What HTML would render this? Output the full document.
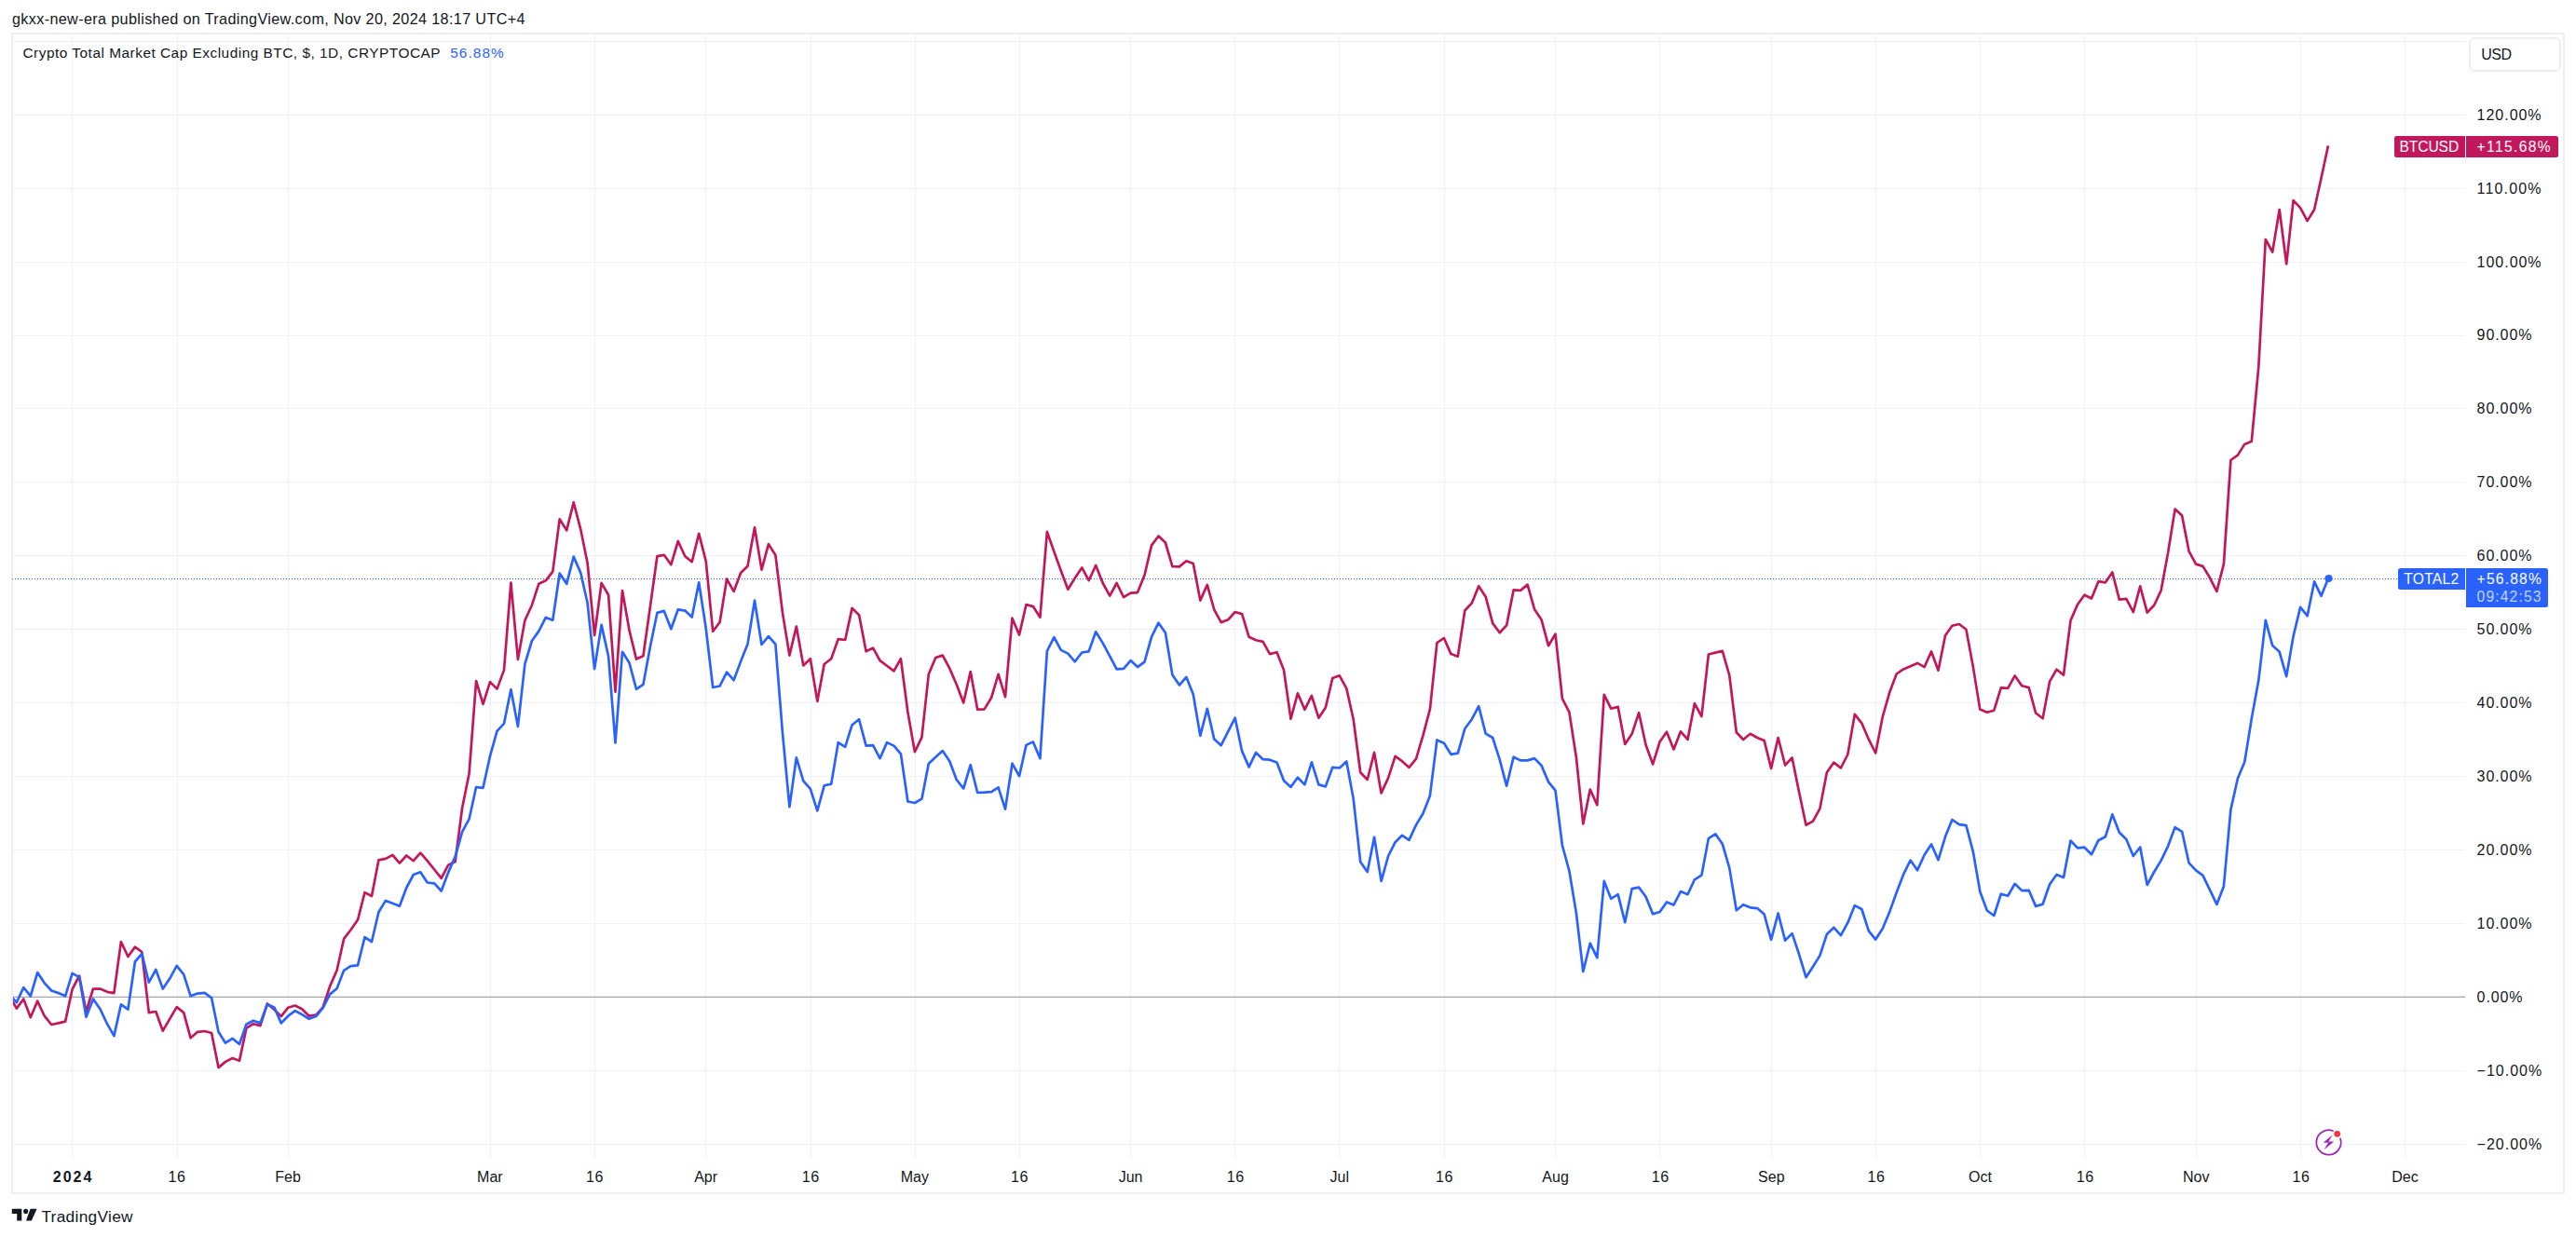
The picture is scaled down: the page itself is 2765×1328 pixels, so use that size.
<!DOCTYPE html>
<html><head><meta charset="utf-8"><title>chart</title>
<style>
html,body{margin:0;padding:0;background:#fff;}
body{width:2765px;height:1328px;position:relative;overflow:hidden;font-family:"Liberation Sans",sans-serif;color:#131722;}
.t{position:absolute;white-space:nowrap;line-height:1;}
.b{position:absolute;}
#frame{left:12px;top:35px;width:2737px;height:1243px;border:2px solid #eceef3;box-sizing:content-box;}
#usd{left:2650px;top:40px;width:95px;height:33px;border:2px solid #eceef4;border-radius:6px;box-sizing:content-box;}
svg{position:absolute;left:0;top:0;}
</style></head><body>
<div class="b" id="frame"></div>

<svg width="2765" height="1328" viewBox="0 0 2765 1328">
<g stroke="#f0f1f2" stroke-width="1">
<line x1="77.5" y1="37" x2="77.5" y2="1243.5"/>
<line x1="190.5" y1="37" x2="190.5" y2="1243.5"/>
<line x1="309.5" y1="37" x2="309.5" y2="1243.5"/>
<line x1="526.5" y1="37" x2="526.5" y2="1243.5"/>
<line x1="638.5" y1="37" x2="638.5" y2="1243.5"/>
<line x1="757.5" y1="37" x2="757.5" y2="1243.5"/>
<line x1="870.5" y1="37" x2="870.5" y2="1243.5"/>
<line x1="982.5" y1="37" x2="982.5" y2="1243.5"/>
<line x1="1094.5" y1="37" x2="1094.5" y2="1243.5"/>
<line x1="1213.5" y1="37" x2="1213.5" y2="1243.5"/>
<line x1="1325.5" y1="37" x2="1325.5" y2="1243.5"/>
<line x1="1437.5" y1="37" x2="1437.5" y2="1243.5"/>
<line x1="1550.5" y1="37" x2="1550.5" y2="1243.5"/>
<line x1="1669.5" y1="37" x2="1669.5" y2="1243.5"/>
<line x1="1781.5" y1="37" x2="1781.5" y2="1243.5"/>
<line x1="1901.5" y1="37" x2="1901.5" y2="1243.5"/>
<line x1="2013.5" y1="37" x2="2013.5" y2="1243.5"/>
<line x1="2125.5" y1="37" x2="2125.5" y2="1243.5"/>
<line x1="2237.5" y1="37" x2="2237.5" y2="1243.5"/>
<line x1="2357.5" y1="37" x2="2357.5" y2="1243.5"/>
<line x1="2469.5" y1="37" x2="2469.5" y2="1243.5"/>
<line x1="2581.5" y1="37" x2="2581.5" y2="1243.5"/>
<line x1="14" y1="1228.5" x2="2646" y2="1228.5"/>
<line x1="14" y1="1149.5" x2="2646" y2="1149.5"/>
<line x1="14" y1="991.5" x2="2646" y2="991.5"/>
<line x1="14" y1="912.5" x2="2646" y2="912.5"/>
<line x1="14" y1="833.5" x2="2646" y2="833.5"/>
<line x1="14" y1="754.5" x2="2646" y2="754.5"/>
<line x1="14" y1="675.5" x2="2646" y2="675.5"/>
<line x1="14" y1="596.5" x2="2646" y2="596.5"/>
<line x1="14" y1="517.5" x2="2646" y2="517.5"/>
<line x1="14" y1="438.5" x2="2646" y2="438.5"/>
<line x1="14" y1="360.5" x2="2646" y2="360.5"/>
<line x1="14" y1="281.5" x2="2646" y2="281.5"/>
<line x1="14" y1="202.5" x2="2646" y2="202.5"/>
<line x1="14" y1="123.5" x2="2646" y2="123.5"/>
<line x1="14" y1="44.5" x2="2646" y2="44.5"/>
</g>
<line x1="14" y1="1070.4" x2="2646" y2="1070.4" stroke="#a3a6b2" stroke-width="1.3"/>
<line x1="13" y1="621.5" x2="2574" y2="621.5" stroke="#2962ff" stroke-width="1" stroke-dasharray="1,2" shape-rendering="crispEdges"/>
<clipPath id="cp"><rect x="14" y="37" width="2632" height="1206"/></clipPath>
<g clip-path="url(#cp)" fill="none" stroke-width="2.7" stroke-linejoin="round" stroke-linecap="butt">
<polyline stroke="#c2185b" points="10.3,1069.4 17.8,1082.6 25.3,1072.5 32.8,1092.2 40.2,1074.7 47.7,1090.7 55.2,1100.0 62.7,1098.4 70.1,1096.6 77.6,1062.0 85.1,1047.7 92.5,1086.0 100.0,1061.5 107.5,1061.6 115.0,1064.8 122.4,1066.1 129.9,1011.0 137.4,1027.0 144.9,1016.6 152.3,1022.0 159.8,1087.1 167.3,1086.0 174.8,1106.7 182.2,1093.8 189.7,1081.1 197.2,1087.1 204.6,1114.3 212.1,1107.8 219.6,1107.0 227.1,1109.0 234.5,1146.1 242.0,1139.9 249.5,1136.0 257.0,1138.8 264.4,1103.9 271.9,1099.2 279.4,1101.1 286.9,1077.5 294.3,1083.7 301.8,1091.1 309.3,1081.7 316.8,1079.5 324.2,1083.2 331.7,1090.7 339.2,1089.6 346.6,1081.4 354.1,1058.9 361.6,1041.8 369.1,1007.9 376.5,998.3 384.0,987.6 391.5,958.1 399.0,962.0 406.4,923.4 413.9,921.9 421.4,918.0 428.9,926.6 436.3,918.5 443.8,924.2 451.3,915.7 458.7,924.2 466.2,933.5 473.7,942.9 481.2,928.6 488.6,925.0 496.1,867.5 503.6,830.3 511.1,731.0 518.5,755.9 526.0,732.1 533.5,739.6 541.0,719.4 548.4,625.6 555.9,707.9 563.4,666.0 570.9,649.7 578.3,626.8 585.8,623.3 593.3,613.6 600.7,557.3 608.2,569.4 615.7,539.4 623.2,568.1 630.6,604.6 638.1,682.0 645.6,625.9 653.1,638.8 660.5,742.7 668.0,634.1 675.5,676.8 683.0,707.6 690.4,704.2 697.9,651.2 705.4,597.2 712.8,595.8 720.3,606.2 727.8,581.0 735.3,597.2 742.7,603.1 750.2,572.8 757.7,602.3 765.2,677.8 772.6,668.0 780.1,621.7 787.6,634.9 795.1,615.0 802.5,607.7 810.0,566.3 817.5,611.6 824.9,584.1 832.4,596.0 839.9,657.4 847.4,703.6 854.8,672.6 862.3,714.5 869.8,707.2 877.3,752.9 884.7,713.0 892.2,707.2 899.7,686.1 907.2,687.0 914.6,652.9 922.1,660.2 929.6,699.3 937.1,695.6 944.5,709.1 952.0,714.8 959.5,720.4 966.9,707.2 974.4,764.5 981.9,807.2 989.4,791.7 996.8,723.8 1004.3,706.0 1011.8,703.6 1019.3,717.6 1026.7,734.7 1034.2,754.4 1041.7,721.1 1049.2,761.7 1056.6,761.4 1064.1,749.0 1071.6,723.9 1079.0,748.2 1086.5,663.7 1094.0,681.6 1101.5,649.0 1108.9,651.1 1116.4,662.8 1123.9,570.9 1131.4,592.3 1138.8,612.8 1146.3,632.7 1153.8,620.6 1161.3,609.4 1168.7,623.2 1176.2,607.0 1183.7,626.0 1191.2,639.7 1198.6,626.0 1206.1,641.2 1213.6,636.6 1221.0,636.1 1228.5,617.5 1236.0,585.6 1243.5,575.5 1250.9,582.5 1258.4,608.1 1265.9,608.4 1273.4,602.2 1280.8,605.0 1288.3,644.6 1295.8,627.9 1303.3,654.7 1310.7,668.2 1318.2,665.3 1325.7,657.0 1333.1,659.1 1340.6,683.8 1348.1,687.3 1355.6,688.9 1363.0,702.1 1370.5,700.2 1378.0,719.2 1385.5,771.7 1392.9,744.3 1400.4,761.8 1407.9,746.9 1415.4,770.7 1422.8,759.8 1430.3,728.0 1437.8,725.3 1445.3,739.1 1452.7,772.2 1460.2,829.2 1467.7,837.0 1475.1,807.9 1482.6,851.4 1490.1,835.1 1497.6,811.8 1505.0,817.2 1512.5,823.9 1520.0,814.6 1527.5,789.3 1534.9,761.3 1542.4,690.1 1549.9,685.0 1557.4,702.1 1564.8,704.7 1572.3,655.5 1579.8,647.4 1587.2,629.2 1594.7,640.7 1602.2,669.1 1609.7,679.2 1617.1,671.4 1624.6,633.4 1632.1,633.9 1639.6,627.6 1647.0,653.9 1654.5,665.2 1662.0,693.2 1669.5,680.7 1676.9,749.8 1684.4,764.6 1691.9,813.0 1699.3,884.4 1706.8,847.5 1714.3,864.2 1721.8,745.9 1729.2,760.7 1736.7,758.9 1744.2,799.0 1751.7,787.8 1759.1,765.2 1766.6,799.8 1774.1,820.4 1781.6,796.2 1789.0,785.8 1796.5,804.4 1804.0,785.3 1811.5,793.9 1818.9,755.2 1826.4,769.2 1833.9,702.5 1841.3,700.6 1848.8,698.9 1856.3,725.0 1863.8,786.3 1871.2,794.0 1878.7,787.8 1886.2,792.0 1893.7,795.1 1901.1,824.9 1908.6,792.0 1916.1,821.5 1923.6,813.4 1931.0,849.9 1938.5,885.7 1946.0,881.6 1953.4,868.1 1960.9,829.3 1968.4,818.6 1975.9,824.5 1983.3,810.0 1990.8,766.9 1998.3,776.3 2005.8,793.7 2013.2,808.5 2020.7,769.7 2028.2,743.3 2035.7,723.5 2043.1,718.4 2050.6,715.3 2058.1,711.9 2065.6,716.1 2073.0,699.5 2080.5,719.7 2088.0,682.2 2095.4,671.8 2102.9,670.0 2110.4,675.7 2117.9,716.1 2125.3,761.6 2132.8,764.7 2140.3,762.7 2147.8,738.3 2155.2,738.9 2162.7,725.4 2170.2,736.3 2177.7,738.1 2185.1,765.5 2192.6,771.2 2200.1,731.6 2207.5,718.7 2215.0,724.6 2222.5,666.1 2230.0,649.0 2237.4,638.7 2244.9,642.5 2252.4,624.2 2259.9,625.3 2267.3,614.4 2274.8,643.6 2282.3,642.9 2289.8,657.1 2297.2,629.3 2304.7,657.6 2312.2,649.8 2319.6,633.9 2327.1,593.2 2334.6,546.6 2342.1,553.6 2349.5,591.6 2357.0,605.6 2364.5,607.9 2372.0,620.3 2379.4,634.8 2386.9,605.6 2394.4,494.0 2401.9,488.6 2409.3,476.9 2416.8,473.8 2424.3,393.9 2431.8,257.0 2439.2,270.5 2446.7,225.0 2454.2,283.4 2461.6,215.1 2469.1,223.2 2476.6,237.1 2484.1,225.0 2491.5,191.3 2499.0,156.4"/>
<polyline stroke="#2962ff" points="10.3,1068.0 17.8,1076.2 25.3,1060.1 32.8,1069.4 40.2,1044.1 47.7,1055.3 55.2,1063.5 62.7,1066.1 70.1,1069.3 77.6,1044.9 85.1,1049.2 92.5,1091.8 100.0,1072.5 107.5,1083.2 115.0,1099.2 122.4,1112.1 129.9,1078.3 137.4,1083.7 144.9,1032.5 152.3,1023.9 159.8,1054.7 167.3,1041.0 174.8,1061.6 182.2,1050.6 189.7,1036.8 197.2,1046.1 204.6,1069.3 212.1,1066.6 219.6,1065.8 227.1,1071.3 234.5,1107.8 242.0,1119.7 249.5,1114.8 257.0,1121.0 264.4,1099.7 271.9,1095.8 279.4,1098.4 286.9,1078.3 294.3,1081.4 301.8,1098.4 309.3,1090.7 316.8,1085.2 324.2,1089.1 331.7,1093.8 339.2,1091.1 346.6,1082.1 354.1,1067.4 361.6,1061.2 369.1,1041.8 376.5,1037.1 384.0,1036.3 391.5,1006.1 399.0,1011.0 406.4,979.3 413.9,966.9 421.4,969.7 428.9,972.7 436.3,953.0 443.8,939.0 451.3,936.3 458.7,947.5 466.2,948.3 473.7,956.5 481.2,936.6 488.6,919.6 496.1,893.2 503.6,879.2 511.1,845.0 518.5,845.8 526.0,811.6 533.5,784.9 541.0,776.8 548.4,740.3 555.9,779.9 563.4,712.9 570.9,688.0 578.3,677.6 585.8,662.9 593.3,665.7 600.7,615.5 608.2,626.8 615.7,597.6 623.2,614.7 630.6,647.3 638.1,718.1 645.6,670.9 653.1,704.8 660.5,797.5 668.0,699.8 675.5,711.6 683.0,739.9 690.4,734.9 697.9,694.2 705.4,657.9 712.8,655.9 720.3,675.3 727.8,654.3 735.3,655.6 742.7,662.5 750.2,625.3 757.7,674.5 765.2,738.0 772.6,736.5 780.1,721.7 787.6,730.2 795.1,710.1 802.5,691.6 810.0,644.7 817.5,692.0 824.9,683.1 832.4,691.7 839.9,786.0 847.4,866.2 854.8,813.4 862.3,838.3 869.8,846.8 877.3,870.4 884.7,843.3 892.2,841.7 899.7,797.1 907.2,801.8 914.6,778.2 922.1,772.3 929.6,800.6 937.1,800.2 944.5,814.2 952.0,797.1 959.5,800.6 966.9,809.3 974.4,860.5 981.9,862.0 989.4,857.7 996.8,819.7 1004.3,812.7 1011.8,806.1 1019.3,817.3 1026.7,837.0 1034.2,846.5 1041.7,821.2 1049.2,851.0 1056.6,850.7 1064.1,850.2 1071.6,845.3 1079.0,868.6 1086.5,819.7 1094.0,833.2 1101.5,799.9 1108.9,796.4 1116.4,814.2 1123.9,699.0 1131.4,684.2 1138.8,697.9 1146.3,701.6 1153.8,710.3 1161.3,700.5 1168.7,699.3 1176.2,678.3 1183.7,690.4 1191.2,704.4 1198.6,718.4 1206.1,717.9 1213.6,709.1 1221.0,716.1 1228.5,710.6 1236.0,683.9 1243.5,668.7 1250.9,679.3 1258.4,724.6 1265.9,735.5 1273.4,726.9 1280.8,745.6 1288.3,789.8 1295.8,760.9 1303.3,793.6 1310.7,800.2 1318.2,785.4 1325.7,770.7 1333.1,806.4 1340.6,823.4 1348.1,807.9 1355.6,815.2 1363.0,815.7 1370.5,818.5 1378.0,837.9 1385.5,844.9 1392.9,834.8 1400.4,842.4 1407.9,818.3 1415.4,842.4 1422.8,844.4 1430.3,823.8 1437.8,824.5 1445.3,817.5 1452.7,857.6 1460.2,925.2 1467.7,936.1 1475.1,898.8 1482.6,945.8 1490.1,919.0 1497.6,904.2 1505.0,896.8 1512.5,901.9 1520.0,885.6 1527.5,873.2 1534.9,854.2 1542.4,794.4 1549.9,797.8 1557.4,809.8 1564.8,808.7 1572.3,782.3 1579.8,772.2 1587.2,758.2 1594.7,787.7 1602.2,792.0 1609.7,815.3 1617.1,843.7 1624.6,812.7 1632.1,816.4 1639.6,816.4 1647.0,814.1 1654.5,821.8 1662.0,839.4 1669.5,848.7 1676.9,907.5 1684.4,935.0 1691.9,980.1 1699.3,1043.0 1706.8,1012.7 1714.3,1028.2 1721.8,945.9 1729.2,964.8 1736.7,960.2 1744.2,990.2 1751.7,954.1 1759.1,952.6 1766.6,962.7 1774.1,981.3 1781.6,979.0 1789.0,968.4 1796.5,971.5 1804.0,957.1 1811.5,960.2 1818.9,944.3 1826.4,939.7 1833.9,900.1 1841.3,895.4 1848.8,906.0 1856.3,931.9 1863.8,977.3 1871.2,971.2 1878.7,974.3 1886.2,975.1 1893.7,981.6 1901.1,1008.8 1908.6,980.5 1916.1,1009.6 1923.6,1002.1 1931.0,1024.3 1938.5,1049.2 1946.0,1037.8 1953.4,1025.9 1960.9,1002.9 1968.4,995.8 1975.9,1004.2 1983.3,990.7 1990.8,972.1 1998.3,976.0 2005.8,999.3 2013.2,1008.6 2020.7,996.9 2028.2,979.1 2035.7,958.1 2043.1,938.7 2050.6,923.6 2058.1,934.3 2065.6,917.7 2073.0,906.4 2080.5,923.2 2088.0,898.3 2095.4,880.0 2102.9,885.1 2110.4,886.2 2117.9,914.6 2125.3,957.3 2132.8,977.5 2140.3,983.0 2147.8,959.7 2155.2,961.7 2162.7,948.8 2170.2,956.1 2177.7,955.8 2185.1,972.9 2192.6,970.8 2200.1,949.3 2207.5,939.0 2215.0,942.1 2222.5,902.5 2230.0,910.4 2237.4,909.7 2244.9,917.3 2252.4,902.2 2259.9,898.3 2267.3,874.3 2274.8,893.7 2282.3,901.0 2289.8,919.0 2297.2,909.5 2304.7,950.0 2312.2,936.0 2319.6,923.9 2327.1,908.3 2334.6,888.1 2342.1,892.8 2349.5,926.3 2357.0,934.4 2364.5,939.8 2372.0,955.4 2379.4,970.9 2386.9,951.5 2394.4,869.2 2401.9,835.8 2409.3,818.0 2416.8,771.5 2424.3,730.3 2431.8,665.9 2439.2,693.1 2446.7,699.8 2454.2,726.1 2461.6,683.0 2469.1,651.9 2476.6,661.2 2484.1,624.4 2491.5,639.8 2499.0,621.2"/>
</g>
<circle cx="2499.5" cy="621" r="4.1" fill="#2962ff"/>
<rect x="2484" y="1211" width="31" height="31" fill="#fff"/>
<g fill="none" stroke="#9c27b0" stroke-width="1.8" stroke-linecap="round"><path d="M2503.9,1213.95 A13.2,13.2 0 1 0 2512.1,1222.4"/></g>
<path d="M2503,1219.1 L2494.2,1226.5 L2499.4,1226.5 L2495.2,1233.5 L2504.7,1225.7 L2499.2,1225.7 Z" fill="#9c27b0" stroke="#9c27b0" stroke-width="0.4" stroke-linejoin="round"/>
<circle cx="2508.7" cy="1217.3" r="3.4" fill="#f23645"/>
<g fill="#131722"><path d="M12.8,1297.8 H23.3 V1310.5 H18.2 V1303 H12.8 Z"/><circle cx="27.7" cy="1300.4" r="2.55"/><path d="M32.6,1297.8 H39.6 L33.8,1310.5 H27.95 Z"/></g>
</svg>
<div class="t" style="left:13.00px;top:12.19px;font-size:16.20px;letter-spacing:0.349px;color:#131722;">gkxx-new-era published on TradingView.com, Nov 20, 2024 18:17 UTC+4</div>
<div class="t" style="left:24.50px;top:49.16px;font-size:15.40px;letter-spacing:0.504px;color:#131722;">Crypto Total Market Cap Excluding BTC, $, 1D, CRYPTOCAP</div>
<div class="t" style="left:483.20px;top:49.16px;font-size:15.40px;letter-spacing:1.074px;color:#2962ff;">56.88%</div>
<div class="b" id="usd"></div>
<div class="t" style="left:2663.30px;top:50.86px;font-size:16.00px;letter-spacing:-0.491px;color:#131722;">USD</div>
<div class="t" style="left:2658.60px;top:1220.72px;font-size:16.00px;letter-spacing:0.998px;color:#131722;">−20.00%</div>
<div class="t" style="left:2658.60px;top:1141.79px;font-size:16.00px;letter-spacing:0.998px;color:#131722;">−10.00%</div>
<div class="t" style="left:2658.60px;top:1062.86px;font-size:16.00px;letter-spacing:0.883px;color:#131722;">0.00%</div>
<div class="t" style="left:2658.60px;top:983.93px;font-size:16.00px;letter-spacing:0.927px;color:#131722;">10.00%</div>
<div class="t" style="left:2658.60px;top:905.00px;font-size:16.00px;letter-spacing:0.927px;color:#131722;">20.00%</div>
<div class="t" style="left:2658.60px;top:826.07px;font-size:16.00px;letter-spacing:0.927px;color:#131722;">30.00%</div>
<div class="t" style="left:2658.60px;top:747.14px;font-size:16.00px;letter-spacing:0.927px;color:#131722;">40.00%</div>
<div class="t" style="left:2658.60px;top:668.21px;font-size:16.00px;letter-spacing:0.927px;color:#131722;">50.00%</div>
<div class="t" style="left:2658.60px;top:589.28px;font-size:16.00px;letter-spacing:0.927px;color:#131722;">60.00%</div>
<div class="t" style="left:2658.60px;top:510.35px;font-size:16.00px;letter-spacing:0.927px;color:#131722;">70.00%</div>
<div class="t" style="left:2658.60px;top:431.42px;font-size:16.00px;letter-spacing:0.927px;color:#131722;">80.00%</div>
<div class="t" style="left:2658.60px;top:352.49px;font-size:16.00px;letter-spacing:0.927px;color:#131722;">90.00%</div>
<div class="t" style="left:2658.60px;top:273.56px;font-size:16.00px;letter-spacing:0.973px;color:#131722;">100.00%</div>
<div class="t" style="left:2658.60px;top:194.63px;font-size:16.00px;letter-spacing:1.171px;color:#131722;">110.00%</div>
<div class="t" style="left:2658.60px;top:115.70px;font-size:16.00px;letter-spacing:0.973px;color:#131722;">120.00%</div>
<div class="t" style="left:56.80px;top:1256.16px;font-size:16.00px;letter-spacing:2.002px;color:#131722;font-weight:bold;">2024</div>
<div class="t" style="left:180.53px;top:1256.16px;font-size:16.00px;letter-spacing:0.603px;color:#131722;">16</div>
<div class="t" style="left:295.34px;top:1256.16px;font-size:16.00px;letter-spacing:0.000px;color:#131722;">Feb</div>
<div class="t" style="left:512.12px;top:1256.16px;font-size:16.00px;letter-spacing:0.000px;color:#131722;">Mar</div>
<div class="t" style="left:629.02px;top:1256.16px;font-size:16.00px;letter-spacing:0.603px;color:#131722;">16</div>
<div class="t" style="left:745.18px;top:1256.16px;font-size:16.00px;letter-spacing:0.000px;color:#131722;">Apr</div>
<div class="t" style="left:860.75px;top:1256.16px;font-size:16.00px;letter-spacing:0.603px;color:#131722;">16</div>
<div class="t" style="left:966.76px;top:1256.16px;font-size:16.00px;letter-spacing:0.000px;color:#131722;">May</div>
<div class="t" style="left:1085.00px;top:1256.16px;font-size:16.00px;letter-spacing:0.603px;color:#131722;">16</div>
<div class="t" style="left:1200.70px;top:1256.16px;font-size:16.00px;letter-spacing:0.000px;color:#131722;">Jun</div>
<div class="t" style="left:1316.73px;top:1256.16px;font-size:16.00px;letter-spacing:0.603px;color:#131722;">16</div>
<div class="t" style="left:1427.62px;top:1256.16px;font-size:16.00px;letter-spacing:0.000px;color:#131722;">Jul</div>
<div class="t" style="left:1540.97px;top:1256.16px;font-size:16.00px;letter-spacing:0.603px;color:#131722;">16</div>
<div class="t" style="left:1655.34px;top:1256.16px;font-size:16.00px;letter-spacing:0.000px;color:#131722;">Aug</div>
<div class="t" style="left:1772.70px;top:1256.16px;font-size:16.00px;letter-spacing:0.603px;color:#131722;">16</div>
<div class="t" style="left:1887.07px;top:1256.16px;font-size:16.00px;letter-spacing:0.000px;color:#131722;">Sep</div>
<div class="t" style="left:2004.42px;top:1256.16px;font-size:16.00px;letter-spacing:0.603px;color:#131722;">16</div>
<div class="t" style="left:2113.10px;top:1256.16px;font-size:16.00px;letter-spacing:0.000px;color:#131722;">Oct</div>
<div class="t" style="left:2228.68px;top:1256.16px;font-size:16.00px;letter-spacing:0.603px;color:#131722;">16</div>
<div class="t" style="left:2343.05px;top:1256.16px;font-size:16.00px;letter-spacing:0.000px;color:#131722;">Nov</div>
<div class="t" style="left:2460.40px;top:1256.16px;font-size:16.00px;letter-spacing:0.603px;color:#131722;">16</div>
<div class="t" style="left:2567.30px;top:1256.16px;font-size:16.00px;letter-spacing:0.000px;color:#131722;">Dec</div>
<div class="b" style="left:2570px;top:146px;width:76px;height:23px;background:#c2185b;border-radius:2.5px 0 0 2.5px;"></div>
<div class="b" style="left:2647px;top:146px;width:99px;height:23px;background:#c2185b;border-radius:0 2.5px 2.5px 0;"></div>
<div class="t" style="left:2575.40px;top:150.19px;font-size:15.60px;letter-spacing:-0.067px;color:#fff;">BTCUSD</div>
<div class="t" style="left:2658.60px;top:150.19px;font-size:15.60px;letter-spacing:1.352px;color:#fff;">+115.68%</div>
<div class="b" style="left:2574px;top:610px;width:72px;height:23px;background:#2962ff;border-radius:2.5px 0 0 2.5px;"></div>
<div class="b" style="left:2647px;top:610px;width:88px;height:42px;background:#2962ff;border-radius:0 2.5px 2.5px 0;"></div>
<div class="t" style="left:2580.30px;top:614.19px;font-size:15.60px;letter-spacing:0.278px;color:#fff;">TOTAL2</div>
<div class="t" style="left:2658.60px;top:614.39px;font-size:15.60px;letter-spacing:1.213px;color:#fff;">+56.88%</div>
<div class="t" style="left:2658.60px;top:633.29px;font-size:15.60px;letter-spacing:1.168px;color:rgba(255,255,255,0.72);">09:42:53</div>
<div class="t" style="left:44.40px;top:1297.76px;font-size:17.30px;letter-spacing:0.310px;color:#131722;">TradingView</div>
</body></html>
